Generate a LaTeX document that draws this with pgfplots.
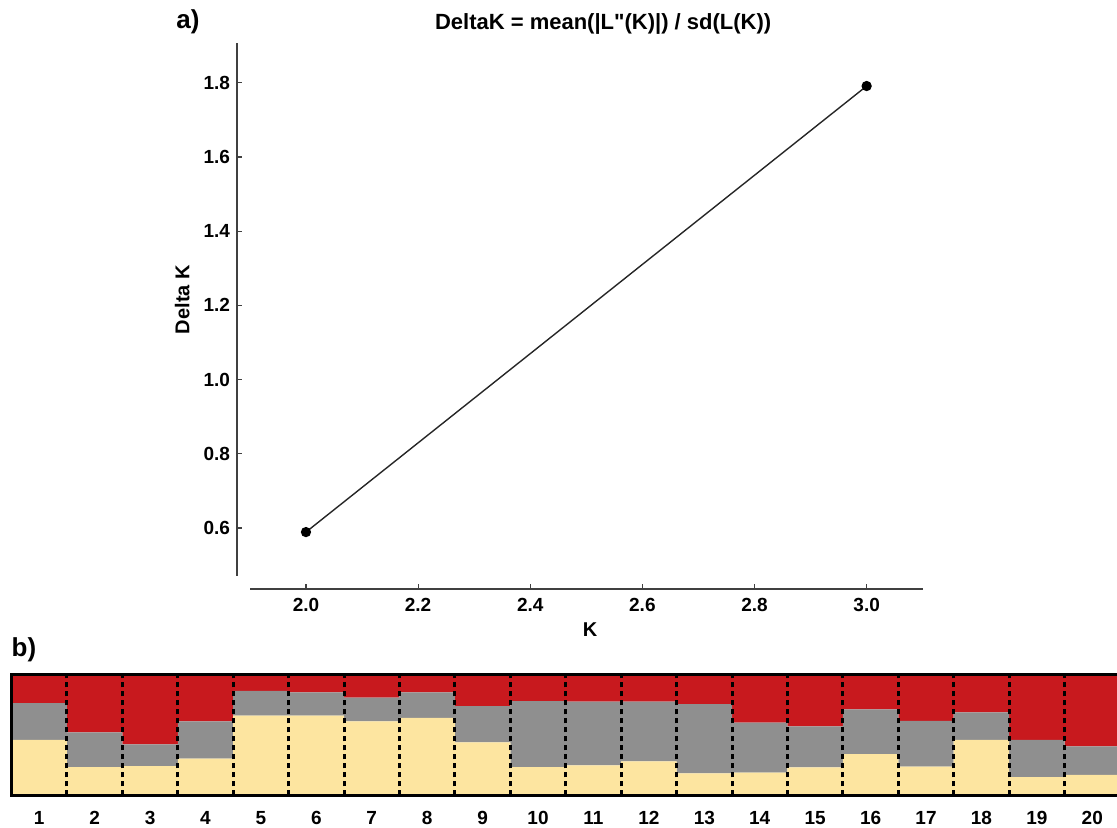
\documentclass[border=0pt]{standalone}
\usepackage{fontspec}
\setmainfont{Liberation Sans}
\usepackage{pgfplots}
\pgfplotsset{compat=1.18}
\definecolor{qred}{HTML}{C8191E}
\definecolor{qgray}{HTML}{8F8F8F}
\definecolor{qyellow}{HTML}{FDE5A0}

% Q values per individual: yellow (bottom), gray, red (top)
\pgfplotstableread{
id  yel   gry   rd
1   0.460 0.303 0.237
2   0.234 0.287 0.479
3   0.242 0.181 0.577
4   0.304 0.309 0.387
5   0.660 0.204 0.136
6   0.660 0.192 0.148
7   0.613 0.195 0.192
8   0.641 0.211 0.148
9   0.440 0.298 0.262
10  0.234 0.546 0.220
11  0.249 0.527 0.224
12  0.283 0.493 0.224
13  0.182 0.574 0.244
14  0.190 0.412 0.398
15  0.232 0.339 0.429
16  0.342 0.369 0.289
17  0.238 0.378 0.384
18  0.459 0.227 0.314
19  0.151 0.308 0.541
20  0.171 0.235 0.594
}\qtable

\begin{document}
\begin{tikzpicture}
\path[use as bounding box] (0,0) rectangle (558.5pt,414pt);

% ---- a) Delta K ----
\begin{axis}[
    at={(118.5pt,119.5pt)}, anchor=south west,
    scale only axis, width=342.85pt, height=273pt,
    xmin=1.877, xmax=3.1, ymin=0.4356, ymax=1.907,
    enlargelimits=false,
    axis lines=left,
    axis line style={-, black!75, line width=0.6pt, shorten <=6.5pt},
    xtick={2.0,2.2,2.4,2.6,2.8,3.0},
    ytick={0.6,0.8,1.0,1.2,1.4,1.6,1.8},
    tick align=inside, major tick length=2.5pt,
    tick style={black!75, line width=0.6pt},
    /pgf/number format/.cd, fixed, fixed zerofill, precision=1, assume math mode=true,
    /pgfplots/.cd,
    tick label style={font=\bfseries\fontsize{9.5}{11}\selectfont},
    xticklabel style={yshift=-1pt},
    title={DeltaK = mean(|L\textquotedbl(K)|) / sd(L(K))},
    title style={font=\bfseries\fontsize{11}{13}\selectfont, at={(axis description cs:0.534,1.0385)}, anchor=center, yshift=-7pt},
    xlabel={K}, ylabel={Delta K},
    label style={font=\bfseries\fontsize{10}{12}\selectfont},
    xlabel style={at={(axis description cs:0.515,-0.075)}, anchor=center},
    ylabel style={at={(axis description cs:-0.08,0.53)}, anchor=center},
]
\addplot[color=black!85, line width=0.7pt, mark=*, mark size=2.2pt,
         mark options={fill=black, draw=black}]
    coordinates {(2.0,0.589) (3.0,1.791)};
\end{axis}

% ---- b) structure bar plot ----
\begin{axis}[
    at={(5.75pt,16.25pt)}, anchor=south west,
    scale only axis, width=554.25pt, height=60.5pt,
    xmin=0.5, xmax=20.5, ymin=0, ymax=1,
    enlargelimits=false,
    ybar stacked, bar width=1,
    axis on top,
    axis line style={black, line width=1.8pt},
    xtick={1,...,20}, ytick=\empty,
    minor xtick={1.5,2.5,...,19.5},
    xminorgrids=true,
    minor grid style={black, line width=1.5pt, dash pattern=on 2.5pt off 2pt},
    major tick length=0pt, minor tick length=0pt,
    /pgf/number format/assume math mode=true,
    tick label style={font=\bfseries\fontsize{9.5}{11}\selectfont},
    xticklabel style={yshift=-4.5pt},
]
\addplot[fill=qyellow, draw=none] table[x=id, y=yel] {\qtable};
\addplot[fill=qgray, draw=none] table[x=id, y=gry] {\qtable};
\addplot[fill=qred, draw=none] table[x=id, y=rd] {\qtable};
\end{axis}

\node[font=\bfseries\fontsize{13}{15}\selectfont] at (94pt,403pt) {a)};
\node[font=\bfseries\fontsize{13}{15}\selectfont] at (12pt,89pt) {b)};
\end{tikzpicture}
\end{document}
